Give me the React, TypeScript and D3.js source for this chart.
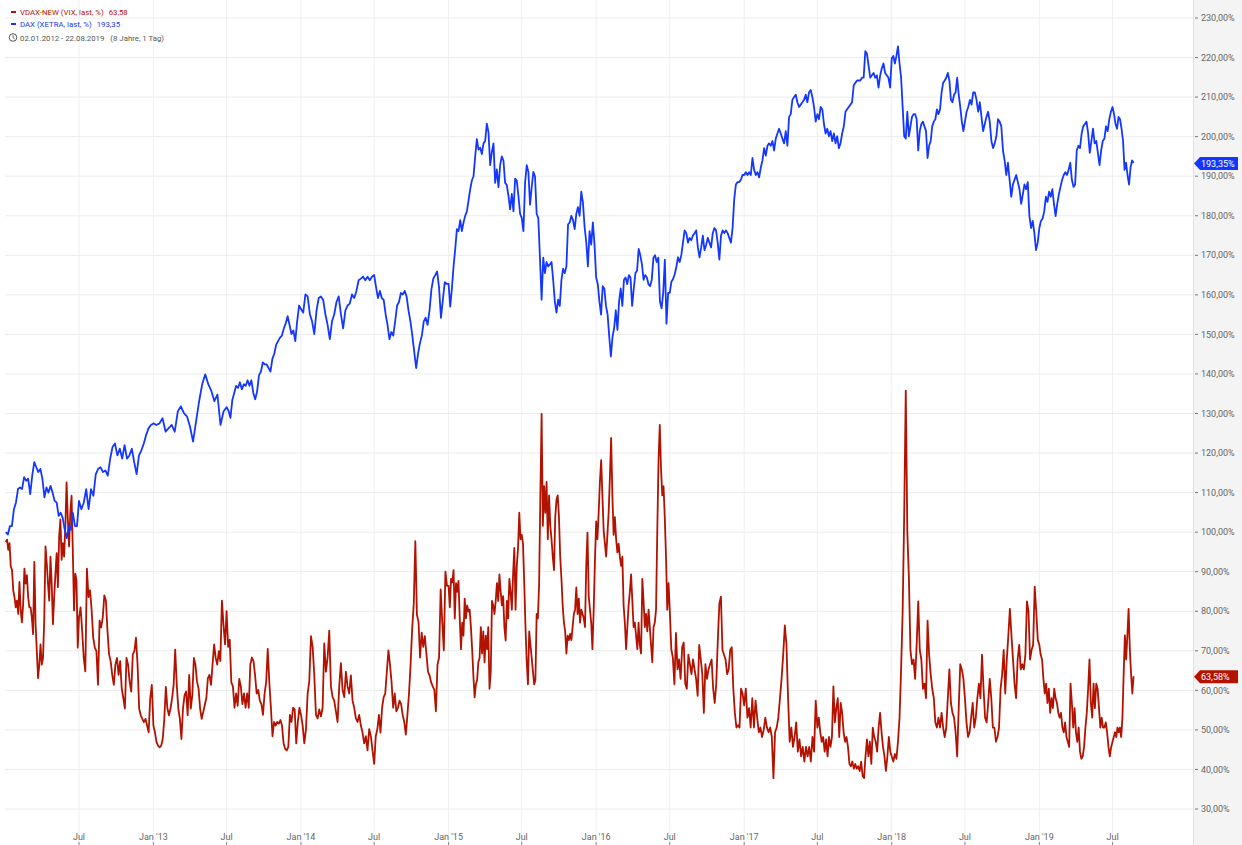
import React from "react";
import * as d3 from "d3";

// each array covers one half year, values spread evenly across that period
const periodStarts = [
  "2012-01-02", "2012-07-01", "2013-01-01", "2013-07-01", "2014-01-01", "2014-07-01",
  "2015-01-01", "2015-07-01", "2016-01-01", "2016-07-01", "2017-01-01", "2017-07-01",
  "2018-01-01", "2018-07-01", "2019-01-01", "2019-07-01",
];
const lastDay = "2019-08-22";

// DAX (XETRA, last, %)
const dax2012a = [100, 99.4, 101.5, 101.5, 105.8, 107.5, 110.9, 111.3, 110.9, 113.9, 113.0, 113.5, 109.6, 114.3, 117.7, 116.4, 115.2, 116.0, 113.5, 108.8, 111.3, 110.0, 111.7, 110.0, 107.9, 107.5, 104.1, 104.9, 103.6, 100.6, 98.5, 101.5, 100.6, 104.9, 101.5, 101.5];
const dax2012b = [107.9, 105.8, 107.5, 110.9, 105.8, 110.9, 109.2, 114.7, 116.0, 116.4, 115.2, 115.6, 114.3, 118.6, 121.6, 122.4, 119.4, 121.1, 118.6, 122.0, 118.6, 119.4, 121.1, 117.7, 114.7, 119.4, 120.7, 122.4, 124.6, 126.3, 127.1];
const dax2013a = [127.5, 127.1, 127.5, 128.8, 125.4, 126.3, 127.1, 125.4, 130.5, 131.8, 130.1, 129.3, 126.7, 122.9, 128.0, 133.1, 137.4, 139.9, 137.4, 135.7, 133.1, 134.8, 127.1, 130.5];
const dax2013b = [131.6, 130.7, 128.9, 133.4, 135.2, 137.0, 136.5, 137.9, 136.1, 137.4, 137.0, 138.4, 137.0, 138.4, 135.2, 133.6, 135.6, 139.7, 140.6, 142.9, 142.4, 142.4, 141.5, 140.6, 143.8, 145.1, 147.4, 148.3, 149.2, 149.7, 151.5, 152.8, 154.6, 152.4, 150.1, 151.0, 148.3, 153.3, 157.3];
const dax2014a = [156.4, 155.5, 160.1, 159.6, 155.1, 153.3, 150.1, 156.0, 159.2, 159.6, 158.7, 155.1, 152.4, 148.8, 153.3, 155.1, 158.2, 159.6, 155.1, 151.5, 156.0, 157.3, 157.8, 160.1, 159.2, 161.0, 163.7, 164.1, 164.6, 163.7, 164.6, 163.7, 164.6];
const dax2014b = [165.0, 161.9, 159.2, 161.0, 159.2, 158.7, 155.1, 152.4, 148.8, 150.6, 149.7, 153.3, 157.3, 158.2, 160.5, 160.1, 161.0, 159.6, 156.0, 153.3, 149.7, 145.6, 141.5, 145.1, 147.8, 149.7, 153.3, 154.2, 152.4, 156.0, 161.4, 164.1, 165.0, 165.9, 161.9, 154.2, 158.7, 163.2, 162.8];
const dax2015a = [162.8, 157.0, 161.6, 167.2, 171.6, 176.6, 176.1, 178.9, 176.1, 178.3, 180.0, 181.1, 183.9, 186.7, 188.9, 190.0, 195.0, 199.4, 196.7, 197.2, 195.6, 198.3, 198.9, 203.3, 201.1, 192.8, 196.1, 198.3, 188.3, 191.7, 187.2, 192.8, 195.0, 193.9, 188.3, 187.8, 185.0, 181.6, 185.5, 181.1, 189.4, 188.9, 185.0, 180.5];
const dax2015b = [179.4, 176.1, 188.3, 192.8, 191.1, 182.8, 187.2, 191.1, 190.0, 180.5, 179.4, 169.4, 158.8, 169.4, 165.5, 168.3, 167.2, 167.7, 168.3, 163.8, 158.3, 155.5, 158.8, 157.2, 163.8, 166.6, 165.5, 167.2, 177.8, 178.3, 180.0, 178.9, 176.6, 180.5, 182.2, 180.0, 186.1, 183.3, 177.2, 173.3, 167.2, 176.1, 172.7, 178.3, 172.7];
const dax2016a = [164.4, 162.7, 158.3, 155.0, 162.2, 161.6, 157.2, 155.0, 149.4, 144.4, 149.4, 151.6, 156.1, 151.1, 158.3, 161.6, 157.2, 163.8, 164.4, 162.7, 165.0, 164.4, 157.2, 161.6, 165.5, 166.1, 171.6, 170.0, 167.7, 163.8, 165.0, 164.4, 162.7, 162.2, 163.8, 169.4, 170.0, 168.3, 169.4, 158.3, 156.6, 160.5, 168.9, 152.7, 160.5];
const dax2016b = [160.5, 163.3, 164.0, 165.2, 167.1, 169.5, 168.3, 170.1, 173.2, 176.3, 175.6, 173.2, 174.4, 173.8, 175.0, 175.6, 176.3, 172.0, 169.5, 172.0, 175.0, 171.3, 172.6, 174.4, 173.2, 172.0, 175.6, 176.9, 176.3, 173.2, 168.9, 175.0, 176.3, 175.6, 176.3, 175.6, 174.4, 173.2, 176.9, 184.2, 187.9, 188.5, 188.5, 189.1, 190.3];
const dax2017a = [190.3, 191.0, 190.3, 191.0, 190.3, 194.6, 191.6, 190.3, 191.0, 189.7, 192.2, 194.0, 197.1, 195.2, 197.7, 198.3, 197.7, 198.9, 196.5, 199.5, 200.8, 202.0, 200.8, 199.5, 198.3, 201.4, 197.7, 205.0, 205.7, 209.3, 210.0, 210.6, 208.7, 207.5, 208.1, 208.7, 209.3, 210.6, 208.7, 211.2, 211.8, 210.0, 207.5, 203.8];
const dax2017b = [205.7, 204.4, 207.5, 206.9, 203.2, 200.8, 202.0, 200.1, 201.4, 198.9, 200.8, 198.3, 200.1, 197.1, 198.3, 200.8, 202.6, 206.3, 206.9, 207.5, 208.1, 208.7, 213.0, 213.6, 214.2, 214.2, 214.2, 214.9, 214.9, 221.6, 221.0, 217.9, 214.9, 215.5, 216.1, 214.9, 215.5, 212.4, 215.5, 217.3, 218.5, 216.1, 215.5, 214.9, 212.4];
const dax2018a = [219.8, 220.4, 218.5, 220.4, 222.8, 218.5, 214.9, 207.5, 200.1, 199.5, 206.3, 200.1, 202.6, 205.0, 205.7, 205.7, 204.4, 196.5, 201.4, 203.2, 203.8, 202.6, 201.4, 194.6, 197.7, 198.9, 202.6, 203.8, 204.4, 206.9, 205.7, 206.9, 211.2, 213.6, 214.2, 214.9, 216.1, 214.2, 209.3, 208.7, 210.6, 211.2, 214.9, 210.6, 207.5, 203.8, 201.4];
const dax2018b = [203.8, 206.3, 207.5, 209.3, 208.1, 211.2, 211.2, 209.3, 206.3, 208.7, 205.0, 201.4, 203.2, 205.0, 206.3, 203.8, 198.9, 197.1, 198.3, 200.1, 204.4, 203.8, 202.6, 196.5, 194.0, 190.3, 193.4, 189.1, 184.8, 187.9, 189.1, 190.3, 188.5, 186.7, 183.0, 185.4, 187.9, 186.7, 188.5, 179.9, 176.9, 178.7, 175.6, 171.3, 173.2];
const dax2019a = [176.9, 178.7, 179.3, 181.1, 184.8, 183.5, 186.1, 184.8, 186.7, 183.0, 179.9, 183.0, 185.4, 187.3, 189.1, 190.3, 191.0, 190.3, 191.6, 193.4, 189.1, 187.3, 187.9, 196.5, 197.7, 197.1, 200.8, 202.6, 203.2, 203.8, 200.8, 195.9, 198.9, 202.0, 198.3, 198.9, 195.9, 192.8, 196.5, 198.9, 199.5, 202.6, 201.4, 204.4, 206.3];
const dax2019b = [207.5, 205.7, 203.2, 202.0, 205.0, 204.4, 202.0, 198.9, 191.6, 193.4, 190.3, 187.9, 192.2, 194.0, 193.35];

// VDAX-NEW (VIX, last, %)
const vdax2012a = [97.5, 98.1, 95.5, 97.2, 91.3, 90.4, 85.3, 83.6, 81.0, 82.7, 79.3, 87.4, 80.2, 77.2, 81.9, 90.8, 87.0, 89.1, 83.6, 81.0, 81.0, 78.4, 74.2, 92.5, 76.7, 69.9, 63.1, 66.5, 71.6, 66.5, 68.2, 78.0, 96.4, 92.1, 87.0, 82.7, 93.8, 87.0, 76.7, 83.6, 89.5, 94.7, 86.1, 98.9, 103.2, 93.0, 97.2, 93.8, 101.5, 112.6, 103.2, 96.4, 104.9, 109.2, 95.5, 80.2, 89.5, 87.8, 70.8];
const vdax2012b = [78.4, 81.0, 75.0, 68.2, 64.8, 90.8, 83.6, 85.3, 80.2, 73.3, 70.8, 69.9, 61.4, 77.6, 75.9, 78.4, 84.0, 82.7, 75.0, 69.1, 67.4, 63.9, 61.4, 66.5, 68.2, 63.9, 67.4, 60.5, 58.0, 55.4, 68.2, 66.5, 62.2, 59.7, 69.1, 69.9, 73.3, 66.5, 55.4, 53.7, 52.8, 52.0, 52.8, 51.1, 49.4, 58.0, 61.4];
const vdax2013a = [51.1, 49.4, 46.9, 46.0, 45.6, 46.0, 47.7, 52.8, 60.9, 55.4, 53.7, 55.4, 58.0, 61.4, 70.3, 61.4, 55.4, 52.8, 47.7, 55.4, 58.8, 59.7, 53.7, 63.9, 55.4, 58.8, 68.2, 66.5, 62.2, 60.5, 55.4, 52.8, 54.5, 56.3, 58.0, 63.1, 63.9, 61.4, 66.5, 71.6, 68.2, 66.5, 69.9, 67.4, 82.7, 76.7, 71.6];
const vdax2013b = [80.0, 71.0, 72.8, 62.0, 61.0, 55.6, 59.2, 56.1, 62.9, 61.0, 56.5, 59.2, 55.6, 59.2, 55.6, 66.5, 68.3, 67.4, 63.8, 59.2, 60.1, 57.4, 56.5, 53.8, 59.2, 62.0, 70.5, 62.0, 55.6, 48.4, 52.0, 51.1, 52.0, 51.6, 52.5, 51.1, 46.6, 45.2, 44.8, 45.7, 53.8, 52.0, 55.6, 55.2, 46.6, 52.0, 55.6];
const vdax2014a = [53.8, 51.1, 46.6, 50.2, 59.2, 62.4, 73.7, 71.0, 63.8, 53.8, 52.9, 55.2, 53.4, 55.6, 71.9, 64.7, 68.3, 75.1, 61.0, 58.3, 57.4, 54.7, 52.0, 61.0, 66.9, 60.1, 58.3, 64.7, 61.0, 59.2, 63.8, 57.4, 55.6, 52.9, 52.0, 53.8, 51.1, 49.3, 46.6, 48.4, 44.8, 50.2, 48.4, 44.8];
const vdax2014b = [41.4, 48.4, 50.2, 53.8, 49.3, 55.6, 58.3, 59.2, 64.7, 70.1, 66.5, 62.0, 55.6, 59.2, 54.7, 55.6, 57.4, 56.5, 53.8, 52.0, 48.8, 53.8, 59.2, 66.5, 75.5, 81.8, 97.7, 79.1, 77.3, 68.3, 74.6, 71.0, 73.7, 69.2, 64.7, 63.8, 62.0, 61.0, 60.1, 54.7, 66.5, 68.3, 85.5, 77.3, 70.1, 90.0, 86.4];
const vdax2015a = [86.4, 81.0, 88.2, 87.3, 90.4, 78.2, 87.1, 84.9, 87.7, 78.2, 70.4, 77.1, 73.8, 83.2, 78.2, 81.5, 79.9, 80.4, 76.0, 70.4, 63.7, 58.2, 61.5, 62.6, 67.1, 68.2, 76.0, 69.3, 74.9, 67.1, 73.8, 70.4, 76.0, 60.4, 64.8, 82.6, 81.5, 79.3, 82.6, 87.1, 82.6, 89.3, 84.9, 81.5, 83.8, 76.0, 72.6, 82.6, 78.2, 88.2, 84.9, 80.4, 89.3, 96.0, 80.4, 91.5, 96.0, 104.9, 98.2];
const vdax2015b = [99.3, 97.1, 87.1, 76.0, 67.1, 61.5, 74.9, 71.5, 68.2, 64.8, 61.5, 62.6, 79.3, 78.2, 87.1, 109.3, 129.9, 101.6, 111.6, 104.9, 112.7, 98.2, 109.3, 101.6, 98.2, 93.8, 90.4, 103.8, 108.2, 109.3, 103.8, 93.8, 88.2, 81.5, 77.1, 74.9, 69.3, 73.8, 72.7, 74.3, 72.7, 76.0, 79.3, 80.4, 86.0, 79.3, 83.2, 77.1, 80.4, 79.3, 78.2, 76.0, 91.5, 99.9, 83.8, 80.4, 77.1, 70.4, 80.4, 92.7];
const vdax2016a = [102.7, 98.2, 104.9, 112.7, 118.2, 109.3, 100.4, 97.1, 93.8, 99.3, 104.9, 113.8, 123.8, 109.3, 99.3, 103.8, 98.2, 94.9, 97.1, 93.8, 91.5, 93.8, 81.5, 77.1, 70.4, 76.0, 81.5, 84.9, 89.3, 82.6, 76.0, 77.1, 73.8, 70.4, 77.1, 71.5, 69.3, 88.2, 82.6, 76.0, 79.3, 74.9, 80.4, 76.0, 71.5, 67.1, 76.0, 77.1, 80.4, 100.4, 118.2, 127.1, 116.0, 109.3, 111.6, 103.8, 93.8, 80.4, 87.1];
const vdax2016b = [80.4, 70.4, 68.2, 61.5, 74.5, 65.3, 67.8, 62.9, 70.9, 72.1, 61.7, 60.4, 69.0, 66.6, 64.1, 67.8, 65.3, 62.9, 58.6, 71.5, 67.8, 64.1, 54.3, 66.6, 62.9, 65.3, 66.6, 67.8, 60.4, 56.8, 61.7, 72.7, 81.9, 83.7, 70.2, 69.0, 67.8, 64.1, 65.3, 70.2, 70.9, 60.4, 54.3, 50.6, 51.2, 50.6, 60.4, 59.2];
const vdax2017a = [56.2, 60.4, 53.1, 55.5, 50.6, 58.0, 50.6, 57.4, 53.1, 49.4, 50.6, 48.2, 50.0, 53.1, 50.6, 49.4, 50.6, 48.2, 37.8, 49.4, 50.6, 53.1, 58.0, 62.9, 69.0, 76.4, 71.5, 58.0, 47.0, 50.6, 45.7, 48.2, 51.9, 44.5, 47.6, 43.3, 45.7, 42.0, 45.7, 43.3, 45.7, 42.0, 48.2, 44.5, 57.4];
const vdax2017b = [50.6, 53.1, 49.4, 47.0, 48.2, 44.5, 47.6, 43.3, 48.2, 45.7, 48.2, 61.0, 51.9, 55.5, 58.0, 48.2, 56.8, 54.3, 49.4, 47.0, 48.2, 45.7, 41.4, 40.8, 42.0, 40.2, 41.4, 40.2, 40.8, 39.6, 42.0, 38.4, 37.8, 43.3, 47.6, 43.3, 47.0, 41.4, 50.6, 48.2, 47.0, 44.5, 50.6, 54.3, 49.4, 45.7, 43.3, 39.6, 43.3, 48.2, 44.5];
const vdax2018a = [43.3, 42.0, 43.9, 42.7, 47.0, 53.1, 65.3, 80.0, 104.6, 135.8, 100.0, 88.6, 70.2, 66.6, 67.8, 62.9, 71.5, 82.5, 70.2, 67.8, 60.4, 61.7, 58.0, 77.6, 69.0, 64.1, 60.4, 58.0, 51.9, 50.6, 53.1, 50.6, 54.3, 50.6, 48.2, 50.6, 58.0, 65.3, 56.8, 54.3, 53.1, 49.4, 43.3, 55.5, 66.6, 65.3, 62.9];
const vdax2018b = [58.0, 51.9, 48.2, 49.4, 53.1, 56.8, 50.6, 53.1, 58.0, 61.7, 58.0, 69.0, 60.4, 53.1, 51.9, 56.8, 62.9, 58.0, 50.6, 50.6, 47.0, 48.2, 50.6, 60.4, 64.1, 70.2, 59.2, 67.8, 73.9, 80.6, 73.9, 67.8, 61.7, 58.0, 67.8, 71.5, 65.3, 66.6, 65.3, 69.0, 82.5, 80.0, 67.8, 70.2, 71.5, 86.2, 80.0, 72.7];
const vdax2019a = [71.5, 69.0, 67.8, 62.9, 59.2, 61.7, 56.8, 60.4, 54.3, 58.0, 55.5, 60.4, 58.0, 56.8, 54.3, 53.1, 54.3, 50.6, 49.4, 51.9, 48.2, 47.0, 45.7, 61.7, 56.8, 50.6, 55.5, 49.4, 47.0, 50.6, 44.5, 42.7, 43.3, 45.7, 50.6, 54.3, 60.4, 67.8, 56.8, 53.1, 61.7, 55.5, 61.7, 60.4, 55.5, 50.6, 53.1, 50.6, 50.6, 51.9, 49.4, 45.7, 43.3, 45.7];
const vdax2019b = [47.0, 48.2, 49.4, 48.2, 50.6, 49.4, 50.6, 48.2, 53.1, 64.1, 73.9, 67.8, 73.9, 80.6, 70.2, 64.1, 59.2, 63.58];

const daxPeriods = [dax2012a, dax2012b, dax2013a, dax2013b, dax2014a, dax2014b, dax2015a, dax2015b, dax2016a, dax2016b, dax2017a, dax2017b, dax2018a, dax2018b, dax2019a, dax2019b];
const vdaxPeriods = [vdax2012a, vdax2012b, vdax2013a, vdax2013b, vdax2014a, vdax2014b, vdax2015a, vdax2015b, vdax2016a, vdax2016b, vdax2017a, vdax2017b, vdax2018a, vdax2018b, vdax2019a, vdax2019b];

const yTicks = [30, 40, 50, 60, 70, 80, 90, 100, 110, 120, 130, 140, 150, 160, 170, 180, 190, 200, 210, 220, 230];
const xTicks = [
  "2012-07-01", "2013-01-01", "2013-07-01", "2014-01-01", "2014-07-01", "2015-01-01", "2015-07-01",
  "2016-01-01", "2016-07-01", "2017-01-01", "2017-07-01", "2018-01-01", "2018-07-01", "2019-01-01", "2019-07-01",
];

const BLUE = "#1437ff";
const RED = "#b31200";
const W = 1242;
const H = 845;
const plotRight = 1193;

const parse = d3.timeParse("%Y-%m-%d");

type Pt = { date: Date; value: number };

function toSeries(periods: number[][]): Pt[] {
  const out: Pt[] = [];
  periods.forEach((vals, i) => {
    const isLast = i === periods.length - 1;
    const t0 = +(parse(periodStarts[i]) as Date);
    const t1 = +(parse(isLast ? lastDay : periodStarts[i + 1]) as Date);
    const n = isLast ? vals.length - 1 : vals.length;
    vals.forEach((v, j) => out.push({ date: new Date(t0 + ((t1 - t0) * j) / n), value: v }));
  });
  return out;
}

const fmtPct = (v: number) => v.toFixed(2).replace(".", ",") + "%";

export default function App() {
  const dax = toSeries(daxPeriods);
  const vdax = toSeries(vdaxPeriods);

  const x = d3
    .scaleTime()
    .domain([parse("2012-01-01") as Date, parse("2020-01-16") as Date])
    .range([5.4, plotRight]);
  const y = d3.scaleLinear().domain([30, 230]).range([809, 18]);

  const lineGen = d3
    .line<Pt>()
    .x((d) => x(d.date))
    .y((d) => y(d.value));

  const font = "Roboto, 'Liberation Sans', sans-serif";
  const daxLast = dax[dax.length - 1].value;
  const vdaxLast = vdax[vdax.length - 1].value;

  const tag = (v: number, color: string) => {
    const cy = y(v) + 0.5;
    const pts = [
      [1194, cy],
      [1200, cy - 6.5],
      [1238, cy - 6.5],
      [1238, cy + 6.5],
      [1200, cy + 6.5],
    ]
      .map((p) => p.join(","))
      .join(" ");
    return (
      <g>
        <polygon points={pts} fill={color} />
        <text x={1201} y={cy} dy="0.35em" fill="#fff" fontSize={9}>
          {fmtPct(v)}
        </text>
      </g>
    );
  };

  return (
    <svg
      width={W}
      height={H}
      style={{ position: "absolute", left: 0, top: 0, background: "#fff" }}
      fontFamily={font}
    >
      {/* grid */}
      {xTicks.map((t) => (
        <line key={t} x1={x(parse(t) as Date)} x2={x(parse(t) as Date)} y1={0} y2={H} stroke="#efefef" />
      ))}
      {yTicks.map((t) => (
        <line key={t} x1={5} x2={plotRight} y1={y(t)} y2={y(t)} stroke="#ececec" />
      ))}

      {/* right axis panel */}
      <rect x={plotRight} y={0} width={W - plotRight} height={H} fill="#f4f4f4" />
      <line x1={plotRight + 0.5} x2={plotRight + 0.5} y1={0} y2={H} stroke="#e2e2e2" />
      {yTicks.map((t) => (
        <g key={t}>
          <line x1={1195} x2={1198} y1={y(t)} y2={y(t)} stroke="#777" />
          <text x={1201} y={y(t)} dy="0.35em" fontSize={9} fill="#666">
            {fmtPct(t)}
          </text>
        </g>
      ))}

      {/* x axis labels */}
      {xTicks.map((t) => {
        const d = parse(t) as Date;
        const label = d.getMonth() === 0 ? "Jan '" + d3.timeFormat("%y")(d) : "Jul";
        return (
          <g key={t}>
            <text x={x(d)} y={840} textAnchor="middle" fontSize={9} fill="#666">
              {label}
            </text>
            <line x1={x(d)} x2={x(d)} y1={842} y2={845} stroke="#888" />
          </g>
        );
      })}

      {/* series */}
      <path d={lineGen(vdax) || ""} fill="none" stroke={RED} strokeWidth={1.8} strokeLinejoin="round" />
      <path d={lineGen(dax) || ""} fill="none" stroke={BLUE} strokeWidth={1.8} strokeLinejoin="round" />

      {tag(daxLast, BLUE)}
      {tag(vdaxLast, RED)}

      {/* legend */}
      <g fontSize={7.8}>
        <rect x={11} y={11} width={5} height={2} fill={RED} />
        <text x={20} y={15} fill={RED}>
          VDAX-NEW (VIX, last, %)
          <tspan dx={5}>{vdaxLast.toFixed(2).replace(".", ",")}</tspan>
        </text>
        <rect x={11} y={23} width={5} height={2} fill={BLUE} />
        <text x={20} y={27} fill={BLUE}>
          DAX (XETRA, last, %)
          <tspan dx={5}>{daxLast.toFixed(2).replace(".", ",")}</tspan>
        </text>
        <circle cx={13} cy={37.5} r={3.8} fill="none" stroke="#555" strokeWidth={1} />
        <path d="M13,35.3 V37.7 L14.6,38.8" fill="none" stroke="#555" strokeWidth={0.9} />
        <text x={20} y={41} fill="#555">
          02.01.2012 - 22.08.2019
          <tspan dx={6}>(8 Jahre, 1 Tag)</tspan>
        </text>
      </g>
    </svg>
  );
}
